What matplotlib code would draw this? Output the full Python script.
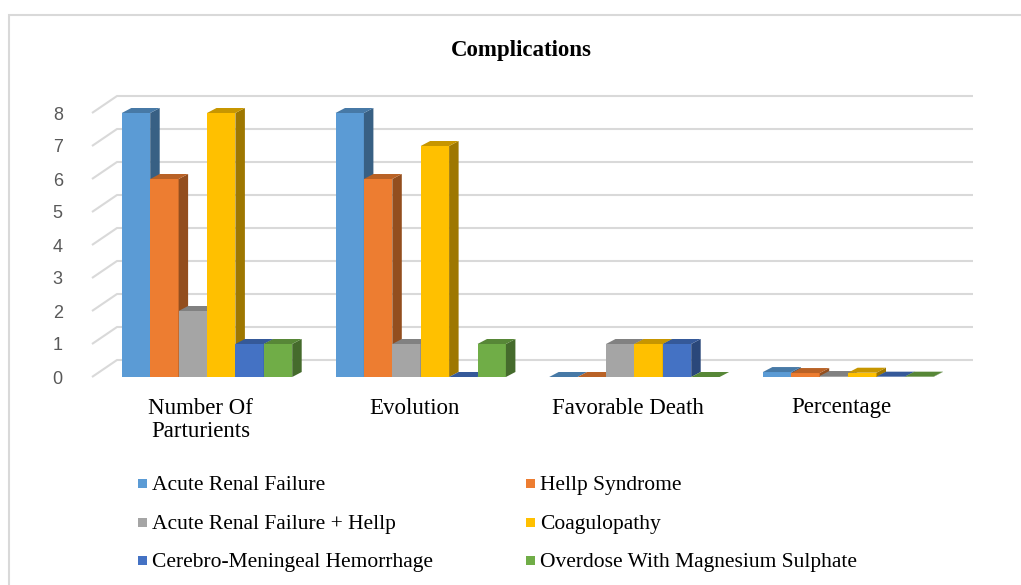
import numpy as np
import matplotlib
matplotlib.use("Agg")
import matplotlib.pyplot as plt
from matplotlib.patches import Polygon, Rectangle
from matplotlib.colors import to_rgb

# data
categories = ["Number Of\nParturients", "Evolution", "Favorable Death", "Percentage"]
series_names = ["Acute Renal Failure", "Hellp Syndrome", "Acute Renal Failure + Hellp",
                "Coagulopathy", "Cerebro-Meningeal Hemorrhage", "Overdose With Magnesium Sulphate"]
acute_renal = [8, 8, 0, 0.15]
hellp = [6, 6, 0, 0.12]
renal_hellp = [2, 1, 1, 0.03]
coagulopathy = [8, 7, 1, 0.13]
cerebro = [1, 0, 1, 0.01]
overdose = [1, 1, 0, 0.01]
series = [acute_renal, hellp, renal_hellp, coagulopathy, cerebro, overdose]
colors = ["#5B9BD5", "#ED7D31", "#A5A5A5", "#FFC000", "#4472C4", "#70AD47"]

W, H = 1021, 585
fig = plt.figure(figsize=(W / 100, H / 100), dpi=100)

# chart border
fig.patches.append(Rectangle((9 / W, -0.01), 1.02, 1 - 15 / H + 0.01, transform=fig.transFigure,
                             fill=False, edgecolor="#D9D9D9", linewidth=1.5))

# axes in pixel-derived position
ax = fig.add_axes([85 / W, (H - 385) / H, (980 - 85) / W, 295 / H])
unit_x = 213.7
unit_y = 33.0
ax.set_xlim((85 - 207) / unit_x, (980 - 207) / unit_x)
ax.set_ylim(-8 / unit_y, 8 + 23 / unit_y)
for s in ax.spines.values():
    s.set_visible(False)

# back wall gridlines with perspective slant
xf = (92 - 207) / unit_x
xb = (117 - 207) / unit_x
xe = (973 - 207) / unit_x
wall_dy = 17 / unit_y
for v in range(9):
    ax.plot([xf, xb, xe], [v, v + wall_dy, v + wall_dy], color="#D9D9D9", lw=1.5,
            zorder=1, clip_on=False, solid_capstyle="butt")

# 3d-looking bars
w = 28.4 / unit_x
ddx = 9.5 / unit_x
ddy = 5 / unit_y


def shade(c, f):
    r, g, b = to_rgb(c)
    return (r * f, g * f, b * f)


x = np.arange(len(categories))
for ci in range(len(categories)):
    for si, vals in enumerate(series):
        v = vals[ci]
        left = x[ci] + (si - 3) * w
        right = left + w
        col = colors[si]
        ax.bar(left, v, width=w, align="edge", color=col, zorder=3 + si * 3)
        side = Polygon([(right, 0), (right + ddx, ddy), (right + ddx, v + ddy), (right, v)],
                       closed=True, facecolor=shade(col, 0.62), edgecolor="none", zorder=3 + si * 3 + 1)
        top = Polygon([(left, v), (left + ddx, v + ddy), (right + ddx, v + ddy), (right, v)],
                      closed=True, facecolor=shade(col, 0.78), edgecolor="none", zorder=3 + si * 3 + 2)
        ax.add_patch(side)
        ax.add_patch(top)

ax.set_yticks(range(9))
ax.set_yticklabels([str(i) for i in range(9)], fontsize=13, color="#595959",
                   fontfamily="Liberation Sans")
ax.set_xticks(x - 0.03)
ax.set_xticklabels(categories, fontsize=16.5, fontfamily="Liberation Serif", linespacing=1.15)
ax.tick_params(axis="y", length=0, pad=16)
ax.tick_params(axis="x", length=0, pad=9)

fig.text(521 / W, 1 - 48 / H, "Complications", ha="center", va="center_baseline", fontsize=16.5,
         fontweight="bold", fontfamily="Liberation Serif")

# legend, placed manually in two columns
leg_x = [142, 530]
leg_y = [483, 522, 560]
for i, name in enumerate(series_names):
    cx = leg_x[i % 2]
    cy = leg_y[i // 2]
    fig.patches.append(Rectangle(((cx - 4.5) / W, 1 - (cy + 4.5) / H), 9 / W, 9 / H,
                                 transform=fig.transFigure, facecolor=colors[i], edgecolor="none"))
    fig.text((cx + 10) / W, 1 - cy / H, name, ha="left", va="center_baseline", fontsize=15.5,
             fontfamily="Liberation Serif")

fig.savefig("out.png", dpi=100)
